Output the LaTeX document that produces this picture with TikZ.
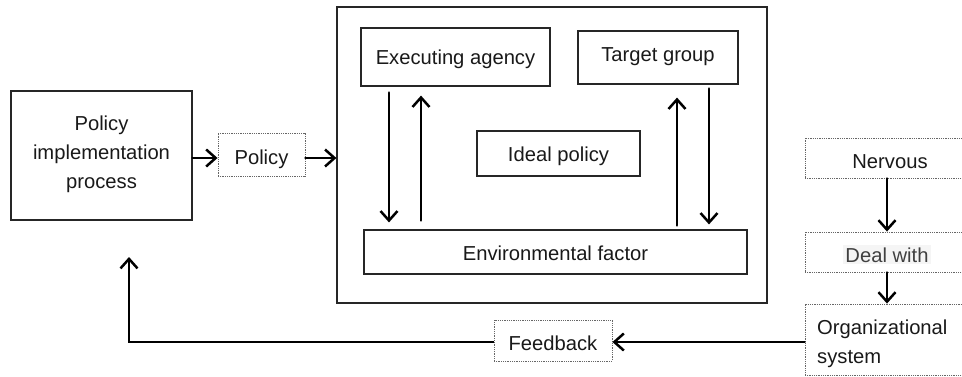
\documentclass[tikz,border=0pt]{standalone}
\usepackage{fontspec}
\setmainfont{Liberation Sans}
\usetikzlibrary{arrows.meta}
\begin{document}
\begin{tikzpicture}[x=1pt,y=-1pt,
  txt/.style={font=\fontsize{20.2}{29}\selectfont, text=black!90},
  solidbox/.style={draw=black!85, line width=1.2pt, inner sep=0pt, txt, align=center, text depth=0pt},
  dotbox/.style={draw=black!60, line width=0.9pt, dash pattern=on 1pt off 0.8pt, inner sep=0pt, txt, align=center, text depth=0pt},
  arr/.style={draw=black, line width=2.8pt, line cap=round,
    -{Straight Barb[length=9.5pt,width=17pt,line width=2.5pt]}}
]
\useasboundingbox (0,0) rectangle (962,376);
\begin{scope}
\clip (0,0) rectangle (962,376);
% main nodes
\node[solidbox, minimum width=181pt, minimum height=129pt, text depth=6pt] (proc) at (101.5,155.5) {Policy\\implementation\\process};
\node[dotbox, minimum width=87pt, minimum height=43pt, text height=20pt] (pol) at (261.5,154.5) {Policy};
\node[solidbox, minimum width=430pt, minimum height=296pt] (big) at (552,155) {};
\node[solidbox, minimum width=189pt, minimum height=58pt, text height=15pt] (exec) at (455.5,57) {Executing agency};
\node[solidbox, minimum width=160pt, minimum height=53pt, text height=8pt] (target) at (658,57.5) {Target group};
\node[solidbox, minimum width=163pt, minimum height=45pt, text height=16pt] (ideal) at (558.5,153.5) {Ideal policy};
\node[solidbox, minimum width=383pt, minimum height=44pt, text height=17pt] (env) at (555.5,252) {Environmental factor};
\node[dotbox, minimum width=170pt, minimum height=40pt, text height=21pt] (nerv) at (890,158) {Nervous};
\node[dotbox, minimum width=170pt, minimum height=40pt] (deal) at (890,252) {};
\node[txt, text=black!75, fill=black!4, inner sep=2pt, anchor=base] (dealt) at (887,262) {Deal with};
\node[dotbox, minimum width=170pt, minimum height=71pt] (org) at (890,339.5) {};
\node[txt, align=left, anchor=west, inner sep=0pt] (orgt) at (817,344) {Organizational\\system};
\node[dotbox, minimum width=118pt, minimum height=41pt, text height=20pt] (feed) at (553,340.5) {Feedback};
\coordinate (corner) at (129,342);
\coordinate (uptip) at (129,257);
% arrows
\draw[arr] (proc.east |- 0,158) -- (pol.west |- 0,158);
\draw[arr] (pol.east |- 0,158) -- (big.west |- 0,158);
\draw[arr, shorten <=6pt, shorten >=7pt] (389,0 |- exec.south) -- (389,0 |- env.north);
\draw[arr, shorten <=9pt, shorten >=9pt] (421,0 |- env.north) -- (421,0 |- exec.south);
\draw[arr, shorten <=4pt, shorten >=13pt] (677,0 |- env.north) -- (677,0 |- target.south);
\draw[arr, shorten <=4pt, shorten >=5pt] (709,0 |- target.south) -- (709,0 |- env.north);
\draw[arr] (887,0 |- nerv.south) -- (887,0 |- deal.north);
\draw[arr] (887,0 |- deal.south) -- (887,0 |- org.north);
\draw[arr] (org.west |- 0,342) -- (feed.east |- 0,342);
\draw[arr, line cap=butt, line join=miter] (feed.west |- 0,342) -- (corner) -- (uptip);
\end{scope}
\end{tikzpicture}
\end{document}
